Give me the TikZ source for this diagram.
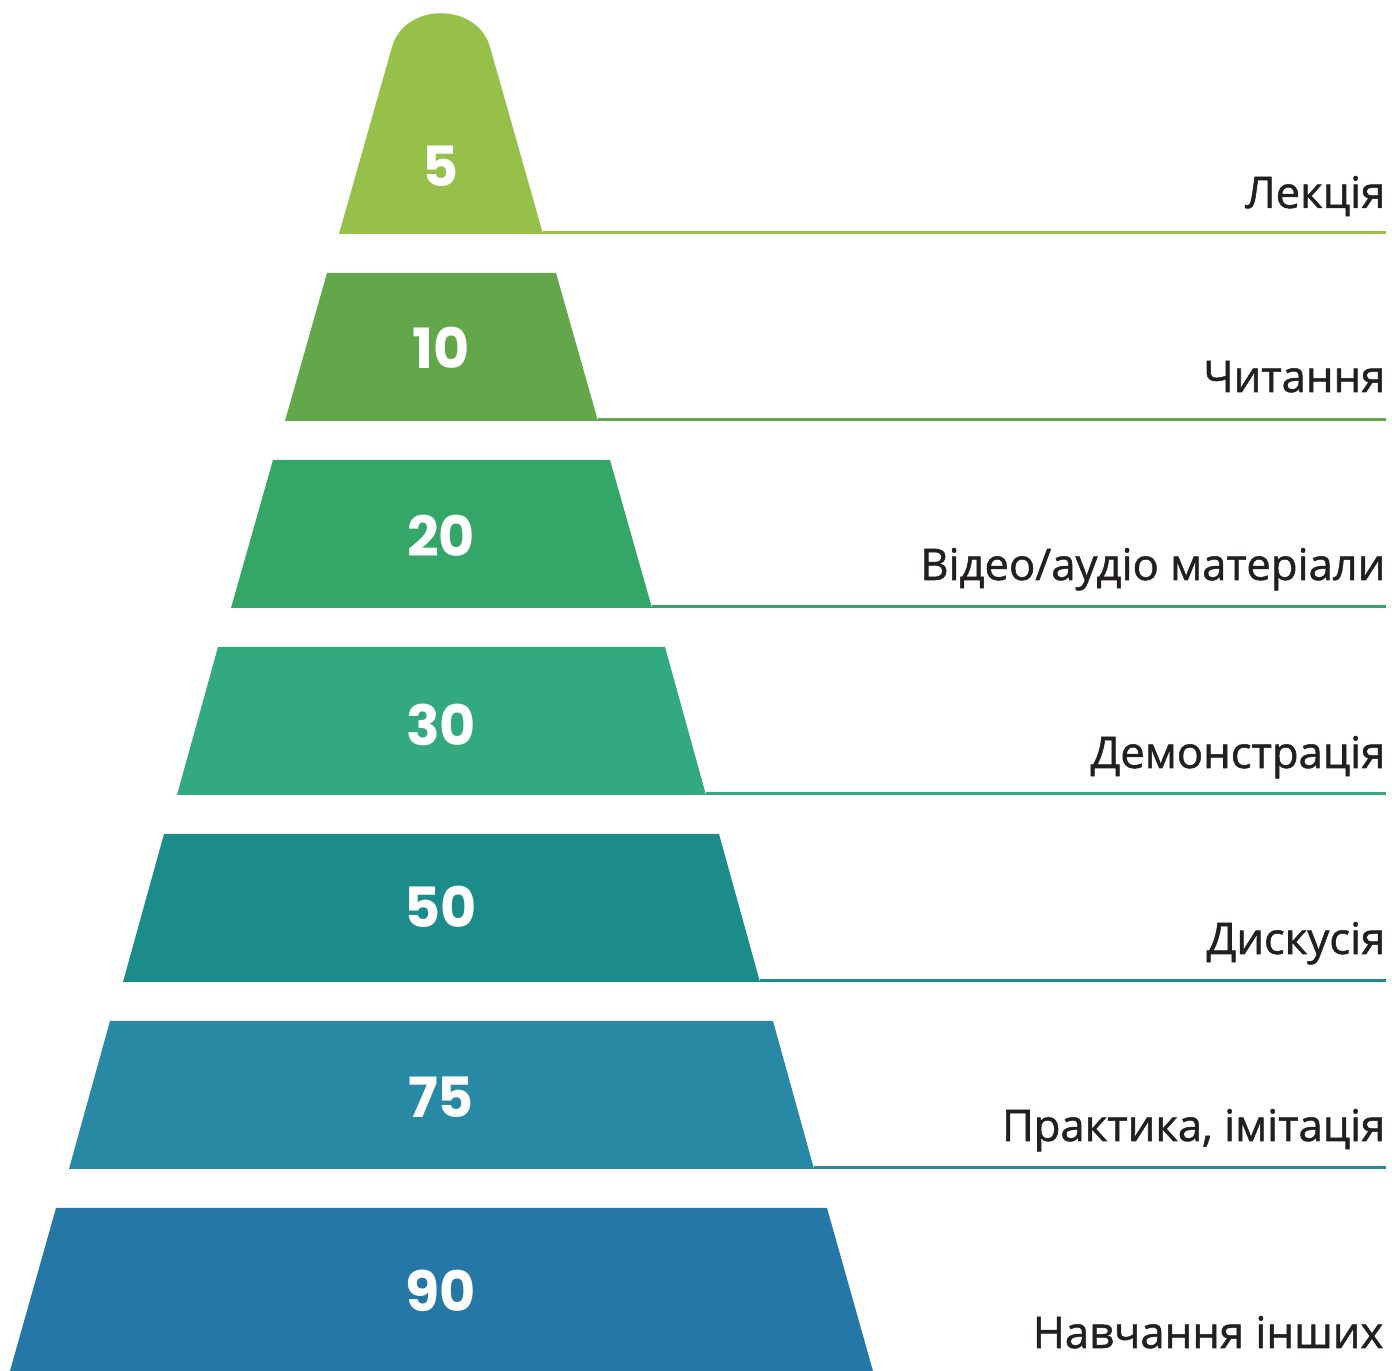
\documentclass[tikz,border=0pt]{standalone}
\usepackage{fontspec}
\newfontfamily\labelfont{Open Sans}[FakeBold=1.2]
\newfontfamily\numfont{Poppins}
\usepackage{tikz}
\definecolor{tierA}{RGB}{150,192,74}
\definecolor{tierB}{RGB}{98,168,75}
\definecolor{tierC}{RGB}{51,166,104}
\definecolor{tierD}{RGB}{51,169,127}
\definecolor{tierE}{RGB}{27,140,138}
\definecolor{tierF}{RGB}{39,137,164}
\definecolor{tierG}{RGB}{37,119,166}
\definecolor{labelgray}{RGB}{35,31,32}

\begin{document}
\begin{tikzpicture}[x=0.1mm, y=-0.1mm,
  tiernum/.style={text=white, font=\numfont\bfseries\fontsize{15.8}{18}\selectfont},
  tierlabel/.style={anchor=base east, inner sep=0pt, text=labelgray,
    font=\labelfont\fontsize{12.4}{14}\selectfont},
  tierline/.style={line width=0.3mm}]

  \useasboundingbox (0,0) rectangle (1392,1371);

  % Tier 1 (rounded top)
  \fill[tierA] (339,234) -- (392,47)
    .. controls (405,2) and (477,2) .. (490,47)
    -- (543,234) -- cycle;
  \coordinate (c1) at (543,233);
  \node[tiernum] (n1) at (441,166) {5};
  \node[tierlabel] (l1) at (1386,208) {Лекція};
  \draw[tierline, tierA] (c1) -- (l1.east |- c1);

  % Tier 2
  \fill[tierB] (285,421) -- (327,273) -- (556,273) -- (598,421) -- cycle;
  \coordinate (c2) at (598,420);
  \node[tiernum] (n2) at (441,348) {10};
  \node[tierlabel] (l2) at (1386,392) {Читання};
  \draw[tierline, tierB] (c2) -- (l2.east |- c2);

  % Tier 3
  \fill[tierC] (231,608) -- (273,460) -- (610,460) -- (652,608) -- cycle;
  \coordinate (c3) at (652,607);
  \node[tiernum] (n3) at (441,536) {20};
  \node[tierlabel] (l3) at (1386,580) {Відео/аудіо матеріали};
  \draw[tierline, tierC] (c3) -- (l3.east |- c3);

  % Tier 4
  \fill[tierD] (177,795) -- (218,647) -- (665,647) -- (706,795) -- cycle;
  \coordinate (c4) at (706,794);
  \node[tiernum] (n4) at (441,725) {30};
  \node[tierlabel] (l4) at (1386,768) {Демонстрація};
  \draw[tierline, tierD] (c4) -- (l4.east |- c4);

  % Tier 5
  \fill[tierE] (123,982) -- (164,834) -- (719,834) -- (760,982) -- cycle;
  \coordinate (c5) at (760,981);
  \node[tiernum] (n5) at (441,907) {50};
  \node[tierlabel] (l5) at (1386,954) {Дискусія};
  \draw[tierline, tierE] (c5) -- (l5.east |- c5);

  % Tier 6
  \fill[tierF] (69,1169) -- (110,1021) -- (773,1021) -- (814,1169) -- cycle;
  \coordinate (c6) at (814,1168);
  \node[tiernum] (n6) at (441,1097) {75};
  \node[tierlabel] (l6) at (1386,1141) {Практика, імітація};
  \draw[tierline, tierF] (c6) -- (l6.east |- c6);

  % Tier 7 (runs off the bottom edge)
  \fill[tierG] (10,1371) -- (56,1208) -- (827,1208) -- (873,1371) -- cycle;
  \node[tiernum] (n7) at (441,1291) {90};
  \node[tierlabel] (l7) at (1384,1348) {Навчання інших};

\end{tikzpicture}
\end{document}
